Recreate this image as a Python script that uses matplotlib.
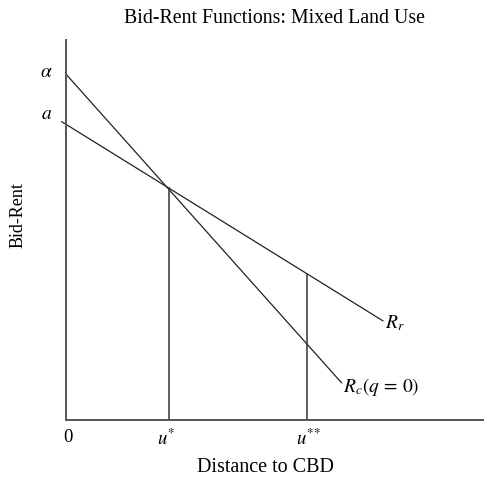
import matplotlib
matplotlib.use("Agg")
import matplotlib.pyplot as plt
import numpy as np

plt.rcParams['font.family'] = ['Liberation Serif', 'DejaVu Serif']
plt.rcParams['mathtext.fontset'] = 'stix'

# bid-rent lines (intercept, slope) in arbitrary units
alpha = 9.1      # commercial intercept
a = 7.78         # residential intercept
slope_c = 1.12
slope_r = 0.62
rc_end = 7.25
rr_start, rr_end = -0.11, 8.34
u_star = 2.7
u_2star = 6.34

fig = plt.figure(figsize=(4.84, 4.80), dpi=100)
ax = fig.add_axes([0.1364, 0.125, 0.8636, 0.7917])
ax.set_xlim(0, 11)
ax.set_ylim(0, 10)

xc = np.array([0, rc_end])
ax.plot(xc, alpha - slope_c * xc, color='#222222', lw=0.9, clip_on=False)
xr = np.array([rr_start, rr_end])
ax.plot(xr, a - slope_r * xr, color='#222222', lw=0.9, clip_on=False)

# vertical boundaries
ax.plot([u_star, u_star], [0, a - slope_r * u_star], color='#333333', lw=1.1)
ax.plot([u_2star, u_2star], [0, a - slope_r * u_2star], color='#333333', lw=1.1)

for s in ['top', 'right']:
    ax.spines[s].set_visible(False)
for s in ['left', 'bottom']:
    ax.spines[s].set_color('#555555')
    ax.spines[s].set_linewidth(1.4)
ax.set_xticks([])
ax.set_yticks([])

fs = 14
ax.text(-0.35, alpha + 0.05, r'$\alpha$', fontsize=fs, ha='right', va='center')
ax.text(-0.35, a + 0.25, r'$a$', fontsize=fs, ha='right', va='center')
ax.text(0.05, -0.45, '0', fontsize=fs - 0.5, ha='center', va='center')
ax.text(u_star - 0.05, -0.5, r'$u^{*}$', fontsize=fs - 0.5, ha='center', va='center')
ax.text(u_2star + 0.05, -0.5, r'$u^{*\!*}$', fontsize=fs - 0.5, ha='center', va='center')
ax.text(rr_end + 0.05, a - slope_r * rr_end - 0.05, r'$R_r$', fontsize=fs, ha='left', va='center')
ax.text(rc_end + 0.05, alpha - slope_c * rc_end - 0.1, r'$R_c(q\, =\, 0)$', fontsize=fs, ha='left', va='center')

fig.text(0.568, 0.962, 'Bid-Rent Functions: Mixed Land Use', fontsize=14.3, ha='center', va='center')
fig.text(0.548, 0.027, 'Distance to CBD', fontsize=14.5, ha='center', va='center')
fig.text(0.037, 0.552, 'Bid-Rent', fontsize=13, ha='center', va='center', rotation=90)

fig.savefig('out.png', dpi=100)
